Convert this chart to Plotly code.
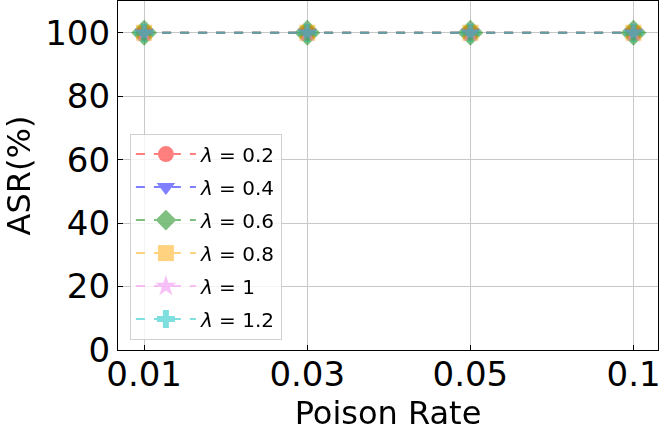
import plotly.graph_objects as go

# poison rates on the x axis (categorical, evenly spaced)
rates = ["0.01", "0.03", "0.05", "0.1"]
lambdas = ["0.2", "0.4", "0.6", "0.8", "1", "1.2"]
asr_02 = [100, 100, 100, 100]
asr_04 = [100, 100, 100, 100]
asr_06 = [100, 100, 100, 100]
asr_08 = [100, 100, 100, 100]
asr_10 = [100, 100, 100, 100]
asr_12 = [100, 100, 100, 100]

series = [asr_02, asr_04, asr_06, asr_08, asr_10, asr_12]
colors = ["rgb(255,0,0)", "rgb(0,0,255)", "rgb(0,128,0)", "rgb(255,165,0)", "rgb(238,130,238)", "rgb(0,191,191)"]
symbols = ["circle", "triangle-down", "diamond", "square", "star", "cross"]
msizes = [16, 16, 20, 16, 16, 15]

fig = go.Figure()
for lam, vals, c, s, ms in zip(lambdas, series, colors, symbols, msizes):
    fig.add_trace(go.Scatter(
        x=list(range(len(rates))), y=vals, mode="lines+markers",
        name="<i>λ</i> = " + lam, legendgroup=lam,
        line=dict(color=c, width=2, dash="dash"),
        marker=dict(symbol=s, size=ms, color=c, line=dict(width=0)),
        opacity=0.5,
    ))

axis_style = dict(
    showline=True, linecolor="black", linewidth=1.2, mirror=True,
    ticks="inside", ticklen=5, tickcolor="black",
    showgrid=True, gridcolor="#c8c8c8", gridwidth=1,
    zeroline=False, automargin=False,
    tickfont=dict(size=34, color="black"),
)

fig.update_xaxes(
    tickmode="array", tickvals=list(range(len(rates))), ticktext=rates,
    range=[-0.16, 3.15], ticklabelstandoff=-6,
    title=dict(text="Poison Rate", font=dict(size=32, color="black"), standoff=5),
    **axis_style,
)
fig.update_yaxes(
    range=[0, 110], tickvals=[0, 20, 40, 60, 80, 100],
    title=dict(text="ASR(%)", font=dict(size=32, color="black"), standoff=8),
    **axis_style,
)

fig.update_layout(
    width=664, height=435,
    margin=dict(l=118, r=6, t=1, b=85),
    paper_bgcolor="white", plot_bgcolor="white",
    font=dict(family="DejaVu Sans", color="black"),
    legend=dict(
        x=0.022, y=0.62, xanchor="left", yanchor="top",
        bgcolor="rgba(255,255,255,0.8)", bordercolor="#d0d0d0", borderwidth=1,
        font=dict(size=20), tracegroupgap=4, itemwidth=60,
    ),
)

# drop the default 8px body margin so the figure sits at the page corner
fig.write_html("out.html", config={"displayModeBar": False},
               post_script="document.body.style.margin='0';")
